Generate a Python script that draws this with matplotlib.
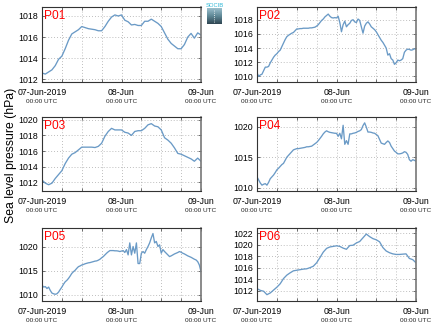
import numpy as np
import matplotlib
matplotlib.use("Agg")
import matplotlib.pyplot as plt
from matplotlib.ticker import MultipleLocator

plt.rcParams['font.family'] = ['Liberation Sans', 'DejaVu Sans']

# time axis in hours since 07-Jun-2019 00:00 UTC
hours_1h = np.arange(49) * 1.0
hours_30m = np.arange(97) * 0.5

tick_hours = [0, 24, 48]
tick_dates = ['07-Jun-2019', '08-Jun', '09-Jun']
tick_times = ['00:00 UTC', '00:00 UTC', '00:00 UTC']

names = ['P01', 'P02', 'P03', 'P04', 'P05', 'P06']

p01 = [1012.6, 1012.5, 1012.7, 1012.9, 1013.3, 1013.9, 1014.2, 1014.9, 1015.7, 1016.3,
       1016.5, 1016.7, 1017.0, 1016.9, 1016.8, 1016.75, 1016.7, 1016.6, 1016.6, 1017.0,
       1017.5, 1017.9, 1018.1, 1018.0, 1018.1, 1017.6, 1017.45, 1017.15, 1017.2, 1017.1,
       1017.1, 1017.5, 1017.5, 1017.7, 1017.5, 1017.3, 1017.0, 1016.4, 1015.8, 1015.4,
       1015.15, 1014.9, 1014.9, 1015.3, 1016.0, 1016.35, 1015.9, 1016.4, 1016.2]

p02 = [1010.5, 1010.0, 1010.2, 1010.3, 1010.8, 1011.3, 1011.3, 1011.4, 1011.9, 1012.3,
       1012.7, 1013.0, 1013.2, 1013.5, 1013.7, 1014.2, 1014.7, 1015.2, 1015.6, 1015.8,
       1015.95, 1016.1, 1016.2, 1016.45, 1016.7, 1016.7, 1016.75, 1016.75, 1016.8, 1016.8,
       1016.8, 1016.8, 1016.85, 1016.85, 1016.9, 1016.95, 1017.1, 1017.3, 1017.6, 1017.9,
       1018.1, 1018.4, 1018.6, 1018.8, 1018.5, 1018.3, 1018.25, 1018.3, 1018.25, 1018.5,
       1017.6, 1016.3, 1017.3, 1017.8, 1017.0, 1017.3, 1017.5, 1017.9, 1018.0, 1017.7,
       1017.6, 1018.1, 1017.9, 1017.0, 1016.1, 1017.1, 1017.5, 1017.7, 1017.4, 1017.0,
       1016.8, 1016.6, 1016.3, 1015.9, 1015.5, 1015.1, 1014.8, 1014.4, 1014.0, 1013.0,
       1013.2, 1012.5, 1012.3, 1011.7, 1011.9, 1012.3, 1012.2, 1012.3, 1012.5, 1013.4,
       1013.7, 1013.85, 1013.8, 1013.7, 1013.75, 1013.9, 1013.8]

p03 = [1012.3, 1011.9, 1011.7, 1011.9, 1012.5, 1013.0, 1013.5, 1014.4, 1015.1, 1015.6,
       1015.8, 1016.15, 1016.5, 1016.5, 1016.5, 1016.5, 1016.45, 1016.6, 1017.0, 1017.9,
       1018.5, 1018.9, 1018.7, 1018.7, 1018.7, 1018.4, 1018.3, 1018.0, 1018.5, 1018.6,
       1018.6, 1018.9, 1019.35, 1019.5, 1019.2, 1019.1, 1018.7, 1017.7, 1017.4, 1017.0,
       1016.4, 1015.7, 1015.6, 1015.4, 1015.2, 1015.0, 1014.7, 1015.1, 1014.7]

p04 = [1011.8, 1011.3, 1010.8, 1010.45, 1010.6, 1010.7, 1010.45, 1010.9, 1011.5, 1011.8,
       1012.1, 1012.5, 1012.95, 1013.2, 1013.5, 1013.8, 1014.0, 1014.5, 1015.0, 1015.3,
       1015.6, 1015.9, 1016.2, 1016.3, 1016.4, 1016.4, 1016.45, 1016.5, 1016.55, 1016.6,
       1016.7, 1016.7, 1016.75, 1016.8, 1017.0, 1017.2, 1017.4, 1017.7, 1018.05, 1018.4,
       1018.8, 1019.1, 1019.3, 1019.15, 1019.05, 1019.0, 1018.95, 1018.9, 1018.9, 1018.4,
       1018.9, 1018.0, 1020.2, 1017.1, 1017.7, 1017.1, 1018.8, 1018.8, 1018.9, 1018.95,
       1019.05, 1019.2, 1019.3, 1019.5, 1020.15, 1020.6, 1019.9, 1019.1, 1019.1, 1019.05,
       1018.95, 1018.9, 1018.7, 1018.5, 1017.9, 1017.3, 1017.2, 1017.1, 1017.4, 1017.65,
       1017.4, 1016.8, 1016.4, 1016.0, 1015.8, 1015.55, 1015.55, 1015.6, 1015.7, 1015.9,
       1015.8, 1015.45, 1014.6, 1014.35, 1014.6, 1014.5, 1014.35]

p05 = [1012.0, 1011.6, 1011.7, 1011.3, 1011.6, 1010.9, 1010.35, 1010.2, 1010.1, 1010.2,
       1010.55, 1011.1, 1011.6, 1012.2, 1012.7, 1013.0, 1013.4, 1013.9, 1014.45, 1014.8,
       1015.1, 1015.5, 1015.85, 1016.0, 1016.2, 1016.3, 1016.45, 1016.55, 1016.65, 1016.7,
       1016.8, 1016.9, 1017.0, 1017.05, 1017.2, 1017.4, 1017.7, 1017.95, 1018.3, 1018.65,
       1018.95, 1019.2, 1019.2, 1019.2, 1019.15, 1019.15, 1019.1, 1019.0, 1019.1, 1019.2,
       1018.8, 1019.4, 1018.3, 1020.8, 1018.3, 1020.05, 1018.65, 1020.8, 1016.5, 1016.5,
       1018.65, 1019.0, 1018.65, 1019.4, 1020.05, 1020.8, 1021.85, 1022.75, 1020.8, 1021.1,
       1020.05, 1020.4, 1018.65, 1019.4, 1019.0, 1018.65, 1018.3, 1017.95, 1018.1, 1018.3,
       1018.5, 1018.65, 1018.8, 1019.0, 1018.85, 1018.65, 1018.5, 1018.3, 1018.1, 1017.95,
       1017.8, 1017.6, 1017.4, 1017.25, 1016.9, 1016.2, 1014.8]

p06 = [1012.35, 1012.05, 1011.9, 1011.3, 1011.6, 1012.1, 1012.6, 1013.2, 1014.1, 1014.7,
       1015.1, 1015.45, 1015.55, 1015.65, 1015.75, 1015.8, 1016.0, 1016.25, 1016.85, 1017.75,
       1018.7, 1019.35, 1019.6, 1019.7, 1019.8, 1019.7, 1019.4, 1019.2, 1019.85, 1019.9,
       1020.3, 1020.55, 1021.2, 1021.85, 1021.4, 1021.05, 1020.85, 1020.5, 1019.5, 1018.9,
       1018.6, 1018.4, 1018.3, 1018.3, 1018.35, 1018.4, 1017.6, 1017.4, 1016.85]

series = [(hours_1h, p01), (hours_30m, p02), (hours_1h, p03),
          (hours_30m, p04), (hours_30m, p05), (hours_1h, p06)]

ylims = [(1011.75, 1018.85), (1009.2, 1019.8), (1010.9, 1020.35),
         (1009.5, 1021.55), (1008.7, 1023.9), (1010.2, 1022.9)]
ysteps = [2, 2, 2, 5, 5, 2]

line_color = '#6a9ac6'

fig = plt.figure(figsize=(4.35, 3.27), dpi=100)

W, H = 435.0, 327.0
lefts = [42, 257]
rows = [(7, 82), (117, 191), (228, 301)]

for i, (t, p) in enumerate(series):
    x0 = lefts[i % 2]
    top, bot = rows[i // 2]
    ax = fig.add_axes([x0 / W, 1 - bot / H, 159 / W, (bot - top) / H])
    ax.plot(t, p, color=line_color, lw=0.95)
    ax.set_xlim(0, 48)
    ax.set_ylim(*ylims[i])
    ax.yaxis.set_major_locator(MultipleLocator(ysteps[i]))
    ax.set_xticks(tick_hours)
    ax.set_xticklabels(tick_dates)
    ax.xaxis.set_minor_locator(MultipleLocator(6))
    ax.grid(True, which='both', axis='x', ls=(0, (1, 2.5)), lw=0.6, color='#a8a8a8')
    ax.grid(True, which='major', axis='y', ls=(0, (1, 2.5)), lw=0.6, color='#a8a8a8')
    ax.tick_params(which='both', direction='in', top=True, right=True,
                   length=2.5, width=0.6, color='#555555', labelsize=6.3, pad=3)
    ax.tick_params(axis='x', which='major', pad=4)
    for s in ax.spines.values():
        s.set_color('#333333')
        s.set_linewidth(0.8)
    ax.spines['right'].set_color('#777777')
    ax.spines['right'].set_linewidth(1.2)
    for h, lab in zip(tick_hours, tick_times):
        ax.annotate(lab, xy=(h, 0), xycoords=('data', 'axes fraction'),
                    xytext=(0, -12.5), textcoords='offset points',
                    ha='center', va='top', fontsize=4.6, color='#222222')
    ax.text(0.015, 0.96, names[i], transform=ax.transAxes, color='red',
            fontsize=8.6, ha='left', va='top')

fig.text(11.5 / W, 1 - 155 / H, 'Sea level pressure (hPa)', rotation=90,
         ha='center', va='center', fontsize=8.8)

# small SOCIB badge between the top panels
badge = fig.add_axes([207 / W, 1 - 24 / H, 15 / W, 16 / H])
grad = np.linspace(0, 1, 50).reshape(-1, 1)
badge.imshow(grad, cmap=matplotlib.colors.LinearSegmentedColormap.from_list(
    'badge', ['#9bbfcc', '#5f8896', '#2f4652']), aspect='auto', extent=(0, 1, 0, 1))
badge.plot([0.5, 0.5], [0.1, 0.9], color='white', ls=':', lw=0.6)
badge.set_xlim(0, 1)
badge.set_ylim(0, 1)
badge.axis('off')
fig.text(214.5 / W, 1 - 5.5 / H, 'SOCIB', color='#2db7d6', fontsize=4.2,
         ha='center', va='center')

fig.savefig('out.png', dpi=100)
